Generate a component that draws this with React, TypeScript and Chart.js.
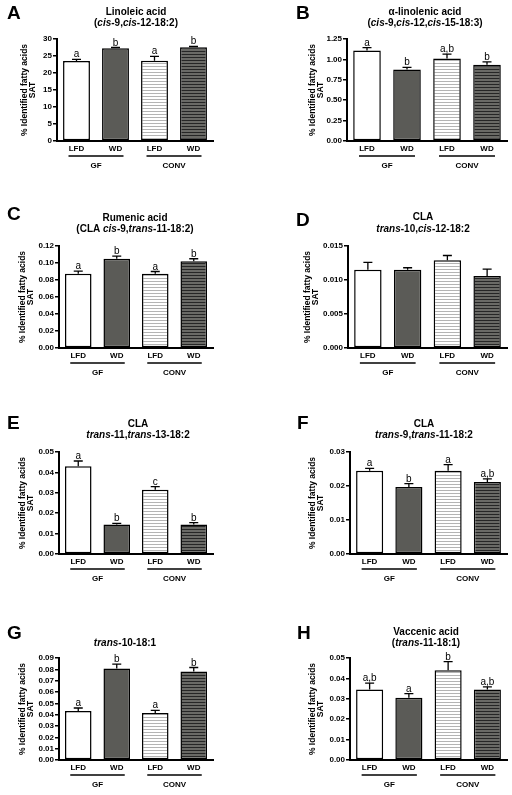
import React, { useEffect, useRef } from 'react';
import { Chart, registerables } from 'chart.js';
Chart.register(...registerables);

const FONT = "'Liberation Sans', Arial, Helvetica, sans-serif";

// ---- categories ----
const dietLabels = ['LFD', 'WD', 'LFD', 'WD'];
const groupLabels = ['GF', 'CONV'];
const yAxisTitle = ['% Identified fatty acids', 'SAT'];

// ---- data (mean, SEM, significance letters) ----
const linoleicMean = [23.5, 27.3, 23.6, 27.6];
const linoleicSem = [0.5, 0.2, 1.3, 0.2];
const linoleicSig = ['a', 'b', 'a', 'b'];

const alphaLinolenicMean = [1.11, 0.875, 1.01, 0.935];
const alphaLinolenicSem = [0.035, 0.028, 0.055, 0.035];
const alphaLinolenicSig = ['a', 'b', 'a,b', 'b'];

const rumenicMean = [0.0875, 0.105, 0.0875, 0.102];
const rumenicSem = [0.003, 0.003, 0.0025, 0.003];
const rumenicSig = ['a', 'b', 'a', 'b'];

const claT10C12Mean = [0.0115, 0.0115, 0.0129, 0.0106];
const claT10C12Sem = [0.0011, 0.0003, 0.0007, 0.001];
const claT10C12Sig = ['', '', '', ''];

const claT11T13Mean = [0.043, 0.0144, 0.0315, 0.0145];
const claT11T13Sem = [0.0026, 0.0006, 0.0015, 0.0009];
const claT11T13Sig = ['a', 'b', 'c', 'b'];

const claT9T11Mean = [0.0245, 0.0197, 0.0245, 0.0212];
const claT9T11Sem = [0.0007, 0.001, 0.0018, 0.0009];
const claT9T11Sig = ['a', 'b', 'a', 'a,b'];

const trans10Mean = [0.0432, 0.0808, 0.0415, 0.078];
const trans10Sem = [0.0027, 0.0038, 0.0023, 0.0036];
const trans10Sig = ['a', 'b', 'a', 'b'];

const vaccenicMean = [0.0345, 0.0305, 0.044, 0.0345];
const vaccenicSem = [0.0032, 0.002, 0.0042, 0.0013];
const vaccenicSig = ['a,b', 'a', 'b', 'a,b'];

// ---- titles (segments: t = text, i = italic) ----
type Seg = { t: string; i?: boolean };
const titleA: Seg[][] = [[{ t: 'Linoleic acid' }], [{ t: '(' }, { t: 'cis', i: true }, { t: '-9,' }, { t: 'cis', i: true }, { t: '-12-18:2)' }]];
const titleB: Seg[][] = [[{ t: 'α-linolenic acid' }], [{ t: '(' }, { t: 'cis', i: true }, { t: '-9,' }, { t: 'cis', i: true }, { t: '-12,' }, { t: 'cis', i: true }, { t: '-15-18:3)' }]];
const titleC: Seg[][] = [[{ t: 'Rumenic acid' }], [{ t: '(CLA ' }, { t: 'cis', i: true }, { t: '-9,' }, { t: 'trans', i: true }, { t: '-11-18:2)' }]];
const titleD: Seg[][] = [[{ t: 'CLA' }], [{ t: 'trans', i: true }, { t: '-10,' }, { t: 'cis', i: true }, { t: '-12-18:2' }]];
const titleE: Seg[][] = [[{ t: 'CLA' }], [{ t: 'trans', i: true }, { t: '-11,' }, { t: 'trans', i: true }, { t: '-13-18:2' }]];
const titleF: Seg[][] = [[{ t: 'CLA' }], [{ t: 'trans', i: true }, { t: '-9,' }, { t: 'trans', i: true }, { t: '-11-18:2' }]];
const titleG: Seg[][] = [[{ t: 'trans', i: true }, { t: '-10-18:1' }]];
const titleH: Seg[][] = [[{ t: 'Vaccenic acid' }], [{ t: '(' }, { t: 'trans', i: true }, { t: '-11-18:1)' }]];

type Panel = {
  id: string; px: number; py: number; h: number;
  axisX: number; topY: number; zeroY: number; rightX: number; yTitleX: number;
  title: Seg[][]; titleX: number; titleY: number[]; letterX: number; letterY: number;
  max: number; step: number; dec: number;
  mean: number[]; sem: number[]; sig: string[];
};

const panels: Panel[] = [
  { id: 'A', px: 0, py: 0, h: 200, axisX: 57, topY: 39, zeroY: 141, rightX: 213, yTitleX: 25, title: titleA, titleX: 136, titleY: [12, 23], letterX: 7, letterY: 14, max: 30, step: 5, dec: 0, mean: linoleicMean, sem: linoleicSem, sig: linoleicSig },
  { id: 'B', px: 256, py: 0, h: 200, axisX: 347, topY: 39, zeroY: 141, rightX: 507, yTitleX: 313, title: titleB, titleX: 425, titleY: [12, 23], letterX: 296, letterY: 14, max: 1.25, step: 0.25, dec: 2, mean: alphaLinolenicMean, sem: alphaLinolenicSem, sig: alphaLinolenicSig },
  { id: 'C', px: 0, py: 200, h: 200, axisX: 59, topY: 246, zeroY: 348, rightX: 213, yTitleX: 23, title: titleC, titleX: 135, titleY: [218, 229], letterX: 7, letterY: 215, max: 0.12, step: 0.02, dec: 2, mean: rumenicMean, sem: rumenicSem, sig: rumenicSig },
  { id: 'D', px: 256, py: 200, h: 200, axisX: 348, topY: 246, zeroY: 348, rightX: 507, yTitleX: 308, title: titleD, titleX: 423, titleY: [217, 229], letterX: 296, letterY: 221, max: 0.015, step: 0.005, dec: 3, mean: claT10C12Mean, sem: claT10C12Sem, sig: claT10C12Sig },
  { id: 'E', px: 0, py: 400, h: 200, axisX: 59, topY: 452, zeroY: 554, rightX: 213, yTitleX: 23, title: titleE, titleX: 138, titleY: [424, 435], letterX: 7, letterY: 424, max: 0.05, step: 0.01, dec: 2, mean: claT11T13Mean, sem: claT11T13Sem, sig: claT11T13Sig },
  { id: 'F', px: 256, py: 400, h: 200, axisX: 350, topY: 452, zeroY: 554, rightX: 507, yTitleX: 313, title: titleF, titleX: 424, titleY: [424, 435], letterX: 297, letterY: 424, max: 0.03, step: 0.01, dec: 2, mean: claT9T11Mean, sem: claT9T11Sem, sig: claT9T11Sig },
  { id: 'G', px: 0, py: 600, h: 195, axisX: 59, topY: 658, zeroY: 760, rightX: 213, yTitleX: 23, title: titleG, titleX: 125, titleY: [643], letterX: 7, letterY: 634, max: 0.09, step: 0.01, dec: 2, mean: trans10Mean, sem: trans10Sem, sig: trans10Sig },
  { id: 'H', px: 256, py: 600, h: 195, axisX: 350, topY: 658, zeroY: 760, rightX: 507, yTitleX: 313, title: titleH, titleX: 426, titleY: [632, 643], letterX: 297, letterY: 634, max: 0.05, step: 0.01, dec: 2, mean: vaccenicMean, sem: vaccenicSem, sig: vaccenicSig },
];

const TICK_SIZE = 8;
const YTITLE_SIZE = 8.5;
const YTITLE_LH = 0.95;

function stripePattern(ctx: CanvasRenderingContext2D, bg: string, line: string) {
  const c = document.createElement('canvas');
  c.width = 4; c.height = 3;
  const g = c.getContext('2d')!;
  g.fillStyle = bg; g.fillRect(0, 0, 4, 3);
  g.fillStyle = line; g.fillRect(0, 0, 4, 1);
  return ctx.createPattern(c, 'repeat')!;
}

function PanelChart({ p }: { p: Panel }) {
  const ref = useRef<HTMLCanvasElement>(null);
  useEffect(() => {
    const canvas = ref.current!;
    const ctx0 = canvas.getContext('2d')!;
    const light = stripePattern(ctx0, '#ffffff', '#b4b4b4');
    const dark = stripePattern(ctx0, '#6a6a66', '#262626');

    const extras = {
      id: 'extras',
      afterDraw(chart: any) {
        const ctx: CanvasRenderingContext2D = chart.ctx;
        const ys = chart.scales.y;
        const meta = chart.getDatasetMeta(0);
        const area = chart.chartArea;
        ctx.save();
        // error bars + letters
        meta.data.forEach((bar: any, i: number) => {
          const x = bar.x;
          const yb = bar.y;
          const yt = ys.getPixelForValue(p.mean[i] + p.sem[i]);
          ctx.strokeStyle = '#000';
          ctx.lineWidth = 1.3;
          ctx.beginPath();
          ctx.moveTo(x, yb);
          ctx.lineTo(x, yt);
          ctx.moveTo(x - 4.5, yt);
          ctx.lineTo(x + 4.5, yt);
          ctx.stroke();
          if (p.sig[i]) {
            ctx.fillStyle = '#000';
            ctx.font = `10px ${FONT}`;
            ctx.textAlign = 'center';
            ctx.textBaseline = 'alphabetic';
            ctx.fillText(p.sig[i], x, yt - 2);
          }
        });
        // group lines and labels
        for (let g = 0; g < 2; g++) {
          const x1 = meta.data[g * 2].x - 8;
          const x2 = meta.data[g * 2 + 1].x + 8;
          const yl = area.bottom + 15;
          ctx.strokeStyle = '#000';
          ctx.lineWidth = 1.5;
          ctx.beginPath();
          ctx.moveTo(x1, yl);
          ctx.lineTo(x2, yl);
          ctx.stroke();
          ctx.fillStyle = '#000';
          ctx.font = `bold 8px ${FONT}`;
          ctx.textAlign = 'center';
          ctx.textBaseline = 'middle';
          ctx.fillText(groupLabels[g], (x1 + x2) / 2, area.bottom + 25);
        }
        // title (rich text)
        ctx.textBaseline = 'middle';
        ctx.textAlign = 'left';
        p.title.forEach((line, li) => {
          const fontFor = (s: Seg) => `${s.i ? 'italic ' : ''}bold 10px ${FONT}`;
          let total = 0;
          line.forEach((s) => { ctx.font = fontFor(s); total += ctx.measureText(s.t).width; });
          let x = p.titleX - p.px - total / 2;
          const y = p.titleY[li] - p.py;
          line.forEach((s) => {
            ctx.font = fontFor(s);
            ctx.fillStyle = '#000';
            ctx.fillText(s.t, x, y);
            x += ctx.measureText(s.t).width;
          });
        });
        // panel letter
        ctx.font = `bold 19px ${FONT}`;
        ctx.fillStyle = '#000';
        ctx.textAlign = 'left';
        ctx.textBaseline = 'middle';
        ctx.fillText(p.id, p.letterX - p.px, p.letterY - p.py);
        ctx.restore();
      },
    };

    const yAxisWidth = p.axisX - p.px;
    const xAxisHeight = p.py + p.h - p.zeroY;
    const titlePadTop = p.yTitleX - p.px - (YTITLE_SIZE * YTITLE_LH) / 2;

    const chart = new Chart(canvas, {
      type: 'bar',
      data: {
        labels: dietLabels,
        datasets: [{
          data: p.mean,
          backgroundColor: ['#ffffff', '#5b5b57', light, dark] as any,
          borderColor: '#000',
          borderWidth: 1.5,
          borderSkipped: false,
          categoryPercentage: 1,
          barPercentage: 0.69,
        }],
      },
      options: {
        responsive: false,
        animation: false,
        devicePixelRatio: 1,
        events: [],
        layout: { padding: { top: p.topY - p.py, left: 0, right: p.px + 256 - p.rightX, bottom: 0 } },
        plugins: { legend: { display: false }, tooltip: { enabled: false }, title: { display: false } },
        scales: {
          x: {
            type: 'category',
            offset: true,
            grid: { display: false, drawTicks: false },
            border: { display: true, color: '#000', width: 2 },
            ticks: { color: '#000', font: { family: FONT, size: TICK_SIZE, weight: 'bold' }, padding: 3, maxRotation: 0, autoSkip: false },
            afterFit: (s: any) => { s.height = xAxisHeight; },
          },
          y: {
            min: 0,
            max: p.max,
            grid: { display: true, drawOnChartArea: false, drawTicks: true, tickLength: 4, color: '#000', lineWidth: 1.5 },
            border: { display: true, color: '#000', width: 2 },
            ticks: {
              stepSize: p.step,
              autoSkip: false,
              color: '#000',
              padding: 1,
              font: { family: FONT, size: TICK_SIZE, weight: 'bold' },
              callback: (v: any) => Number(v).toFixed(p.dec),
            },
            title: {
              display: true,
              text: yAxisTitle,
              color: '#000',
              font: { family: FONT, size: YTITLE_SIZE, weight: 'bold', lineHeight: YTITLE_LH },
              padding: { top: titlePadTop, bottom: 0 },
            },
            afterFit: (s: any) => { s.width = yAxisWidth; },
          },
        },
      } as any,
      plugins: [extras],
    });
    return () => chart.destroy();
  }, [p]);
  return (
    <canvas
      ref={ref}
      width={256}
      height={p.h}
      style={{ position: 'absolute', left: p.px, top: p.py, width: 256, height: p.h, display: 'block' }}
    />
  );
}

export default function App() {
  return (
    <div style={{ position: 'absolute', left: 0, top: 0, width: 512, height: 795, background: '#fff', overflow: 'hidden' }}>
      {panels.map((p) => <PanelChart key={p.id} p={p} />)}
    </div>
  );
}
